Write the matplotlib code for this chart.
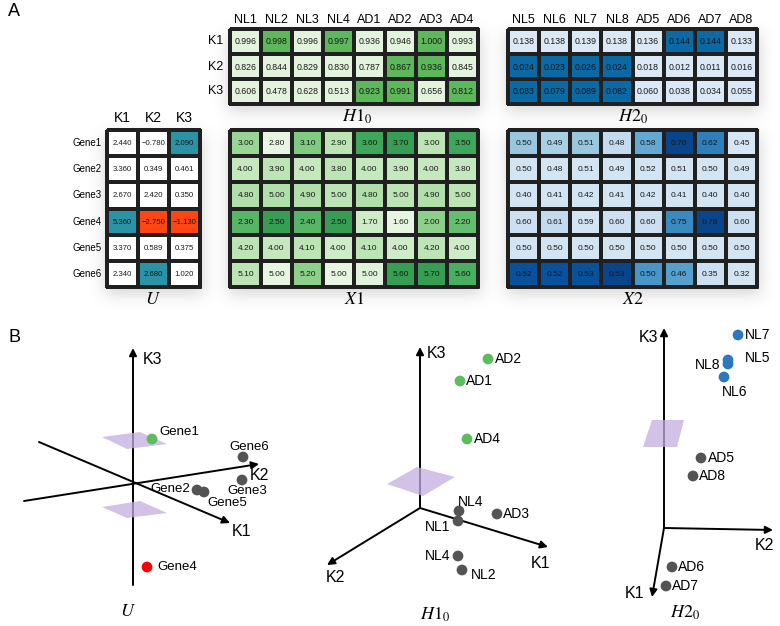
import numpy as np
import matplotlib
matplotlib.use('Agg')
import matplotlib.pyplot as plt
from matplotlib.colors import ListedColormap
from matplotlib.patches import Polygon, Rectangle

plt.rcParams['font.family'] = ['Liberation Sans', 'DejaVu Sans']
plt.rcParams['mathtext.fontset'] = 'stix'

W, H = 780, 626

# ---- data: table A ----
h1_cols = ['NL1', 'NL2', 'NL3', 'NL4', 'AD1', 'AD2', 'AD3', 'AD4']
h2_cols = ['NL5', 'NL6', 'NL7', 'NL8', 'AD5', 'AD6', 'AD7', 'AD8']
k_rows = ['K1', 'K2', 'K3']
genes = ['Gene1', 'Gene2', 'Gene3', 'Gene4', 'Gene5', 'Gene6']

h1_vals = [[0.996, 0.998, 0.996, 0.997, 0.936, 0.946, 1.000, 0.993],
           [0.826, 0.844, 0.829, 0.830, 0.787, 0.867, 0.936, 0.845],
           [0.606, 0.478, 0.628, 0.513, 0.923, 0.991, 0.656, 0.812]]
h1_mark = [[0, 1, 0, 1, 0, 0, 1, 0],
           [0, 0, 0, 0, 0, 1, 1, 0],
           [0, 0, 0, 0, 1, 1, 0, 1]]

h2_vals = [[0.138, 0.138, 0.139, 0.138, 0.136, 0.144, 0.144, 0.133],
           [0.024, 0.023, 0.026, 0.024, 0.018, 0.012, 0.011, 0.016],
           [0.083, 0.079, 0.089, 0.082, 0.060, 0.038, 0.034, 0.055]]
h2_mark = [[0, 0, 0, 0, 0, 1, 1, 0],
           [1, 1, 1, 1, 0, 0, 0, 0],
           [1, 1, 1, 1, 0, 0, 0, 0]]

u_vals = [[2.440, -0.780, 2.090],
          [3.360, 0.349, 0.461],
          [2.670, 2.420, 0.350],
          [5.360, -2.750, -1.130],
          [3.370, 0.589, 0.375],
          [2.340, 2.680, 1.020]]
u_mark = [[0, 0, 1],
          [0, 0, 0],
          [0, 0, 0],
          [1, 2, 2],
          [0, 0, 0],
          [0, 1, 0]]

x1_vals = [[3.00, 2.80, 3.10, 2.90, 3.60, 3.70, 3.00, 3.50],
           [4.00, 3.90, 4.00, 3.80, 4.00, 3.90, 4.00, 3.80],
           [4.80, 5.00, 4.90, 5.00, 4.80, 5.00, 4.90, 5.00],
           [2.30, 2.50, 2.40, 2.50, 1.70, 1.60, 2.00, 2.20],
           [4.20, 4.00, 4.10, 4.00, 4.10, 4.00, 4.20, 4.00],
           [5.10, 5.00, 5.20, 5.00, 5.00, 5.60, 5.70, 5.60]]
# colour level of each cell
x1_shade = [[0.45, 0.05, 0.55, 0.30, 0.80, 0.85, 0.30, 0.80],
            [0.25, 0.30, 0.25, 0.30, 0.25, 0.25, 0.25, 0.25],
            [0.35, 0.35, 0.35, 0.30, 0.35, 0.30, 0.35, 0.30],
            [0.70, 0.85, 0.70, 0.85, 0.20, 0.05, 0.50, 0.65],
            [0.30, 0.25, 0.30, 0.20, 0.30, 0.20, 0.30, 0.20],
            [0.30, 0.05, 0.50, 0.05, 0.10, 0.85, 0.85, 0.75]]

x2_vals = [[0.50, 0.49, 0.51, 0.48, 0.58, 0.70, 0.62, 0.45],
           [0.50, 0.48, 0.51, 0.49, 0.52, 0.51, 0.50, 0.49],
           [0.40, 0.41, 0.42, 0.41, 0.42, 0.41, 0.40, 0.40],
           [0.60, 0.61, 0.59, 0.60, 0.60, 0.75, 0.78, 0.60],
           [0.50, 0.50, 0.50, 0.50, 0.50, 0.50, 0.50, 0.50],
           [0.52, 0.52, 0.53, 0.53, 0.50, 0.46, 0.35, 0.32]]
x2_shade = [[0.35, 0.30, 0.35, 0.20, 0.50, 0.95, 0.70, 0.10],
            [0.12, 0.12, 0.12, 0.12, 0.12, 0.12, 0.12, 0.12],
            [0.12, 0.12, 0.12, 0.12, 0.12, 0.12, 0.12, 0.12],
            [0.15, 0.20, 0.12, 0.15, 0.15, 0.65, 0.95, 0.15],
            [0.12, 0.12, 0.12, 0.12, 0.12, 0.12, 0.12, 0.12],
            [0.90, 0.90, 0.90, 0.95, 0.60, 0.55, 0.15, 0.12]]

# ---- data: panel B (projected positions of the points in each sketch) ----
u_names = ['Gene1', 'Gene2', 'Gene3', 'Gene4', 'Gene5', 'Gene6']
u_px = [19, 64, 109, 14, 71, 110]
u_py = [44, -7, 3, -84, -9, 26]
u_grp = ['g', 'n', 'n', 'r', 'n', 'n']

h1_names = ['AD1', 'AD2', 'AD3', 'AD4', 'NL4', 'NL1', 'NL4', 'NL2']
h1_px = [40, 68, 77, 47, 39, 38, 38, 42]
h1_py = [127, 149, -6, 69, -3, -13, -48, -62]
h1_grp = ['g', 'g', 'n', 'g', 'n', 'n', 'n', 'n']

h2_names = ['NL7', 'NL5', 'NL8', 'NL6', 'AD5', 'AD8', 'AD6', 'AD7']
h2_px = [74, 64, 64, 60, 37, 29, 8, 2]
h2_py = [193, 168, 164, 151, 70, 52, -39, -58]
h2_grp = ['b', 'b', 'b', 'b', 'n', 'n', 'n', 'n']

# label placement (offset px, alignment)
u_lab = [(7, 7, 'left'), (-7, 1, 'right'), (5, -11, 'center'), (10, 0, 'left'),
         (3, -11, 'left'), (6, 10, 'center')]
h1_lab = [(6, 0, 'left'), (7, 0, 'left'), (6, 0, 'left'), (7, 0, 'left'),
          (-1, 9, 'left'), (-8, -6, 'right'), (-8, 0, 'right'), (9, -5, 'left')]
h2_lab = [(7, 0, 'left'), (17, 2, 'left'), (-8, -1, 'right'), (11, -15, 'center'),
          (7, 0, 'left'), (6, 0, 'left'), (6, 0, 'left'), (6, 0, 'left')]

dot_col = {'g': '#5cbd5c', 'n': '#545454', 'r': '#ff0000', 'b': '#2b78c2'}


def px_rect(x0, y0, x1, y1):
    return [x0 / W, 1 - y1 / H, (x1 - x0) / W, (y1 - y0) / H]


fig = plt.figure(figsize=(W / 100, H / 100), dpi=100)

# soft shadow behind the tables
boxes = [(230, 29, 478, 104), (508, 29, 757, 104), (107, 130, 200, 287),
         (230, 130, 478, 287), (508, 130, 757, 287)]
sh = np.zeros((H, W))
for x0, y0, x1, y1 in boxes:
    sh[y0 + 5:y1 + 7, x0 - 2:x1 + 3] = 1
k = np.ones(15) / 15
for _ in range(3):
    sh = np.apply_along_axis(lambda r: np.convolve(r, k, mode='same'), 1, sh)
    sh = np.apply_along_axis(lambda c: np.convolve(c, k, mode='same'), 0, sh)
rgba = np.zeros((H, W, 4))
rgba[..., :3] = 0.5
rgba[..., 3] = 0.32 * sh
bg = fig.add_axes([0, 0, 1, 1], zorder=-5)
bg.imshow(rgba, extent=(0, W, H, 0), aspect='auto')
bg.set_xlim(0, W)
bg.set_ylim(H, 0)
bg.axis('off')


def draw_table(box, vals, colors, cmap, fmt, fs, cols=None, rows=None,
               col_dy=0.36, row_dx=0.23, head_fs=9, row_fs=None):
    ax = fig.add_axes(px_rect(*box))
    vals = np.array(vals)
    nr, nc = vals.shape
    mesh = ax.pcolormesh(np.array(colors, dtype=float), cmap=cmap, vmin=0, vmax=1,
                         edgecolors='#202020', linewidth=1.5)
    mesh.set_clip_on(False)
    ax.add_patch(Rectangle((0, 0), nc, nr, fill=False, ec='#202020', lw=2, clip_on=False))
    ax.set_xlim(0, nc)
    ax.set_ylim(nr, 0)
    ax.axis('off')
    for i in range(nr):
        for j in range(nc):
            s = fmt % vals[i, j]
            s = s.replace('-', '\u2212')
            ax.text(j + 0.5, i + 0.52, s, ha='center', va='center', fontsize=fs,
                    color='#1a1a1a')
    if cols:
        for j, c in enumerate(cols):
            ax.text(j + 0.5, -col_dy, c, ha='center', va='center', fontsize=head_fs)
    if rows:
        for i, r in enumerate(rows):
            ax.text(-row_dx, i + 0.5, r, ha='right', va='center',
                    fontsize=row_fs or head_fs)
    return ax


cm_h1 = ListedColormap(['#e4f3de', '#5db75b'])
cm_h2 = ListedColormap(['#dbe8f5', '#0b69a6'])
cm_u = ListedColormap(['#ffffff', '#2a93a6', '#ff4514'])
g = plt.get_cmap('Greens')
b = plt.get_cmap('Blues')
cm_x1 = ListedColormap(g(np.linspace(0.08, 0.78, 256)))
cm_x2 = ListedColormap(b(np.linspace(0.08, 0.96, 256)))

draw_table(boxes[0], h1_vals, h1_mark, cm_h1, '%.3f', 6.3, cols=h1_cols, rows=k_rows)
draw_table(boxes[1], h2_vals, h2_mark, cm_h2, '%.3f', 6.3, cols=h2_cols)
draw_table(boxes[2], u_vals, np.array(u_mark) / 2, cm_u, '%.3f', 5.6,
           cols=['K1', 'K2', 'K3'], rows=genes, col_dy=0.46, row_dx=0.16,
           head_fs=10, row_fs=7)
draw_table(boxes[3], x1_vals, x1_shade, cm_x1, '%.2f', 6)
draw_table(boxes[4], x2_vals, x2_shade, cm_x2, '%.2f', 6)

tfs = 13
fig.text(357 / W, 1 - 117 / H, r'$\mathit{H}1_{0}$', ha='center', va='center', fontsize=tfs)
fig.text(633 / W, 1 - 117 / H, r'$\mathit{H}2_{0}$', ha='center', va='center', fontsize=tfs)
fig.text(153 / W, 1 - 299 / H, r'$\mathit{U}$', ha='center', va='center', fontsize=tfs)
fig.text(354 / W, 1 - 299 / H, r'$\mathit{X}1$', ha='center', va='center', fontsize=tfs)
fig.text(633 / W, 1 - 299 / H, r'$\mathit{X}2$', ha='center', va='center', fontsize=tfs)

fig.text(8 / W, 1 - 12 / H, 'A', ha='left', va='center', fontsize=13)
fig.text(8 / W, 1 - 337 / H, 'B', ha='left', va='center', fontsize=13)


def sketch(box, origin, axes_lines, ax_labels, planes, names, px, py, grp, labs,
           lab_fs, title, title_xy):
    ox, oy = origin
    x0, y0, x1, y1 = box
    ax = fig.add_axes(px_rect(*box))
    ax.set_xlim(x0 - ox, x1 - ox)
    ax.set_ylim(oy - y1, oy - y0)
    ax.axis('off')
    for (sx, sy), (ex, ey) in axes_lines:
        ax.annotate('', xy=(ex, ey), xytext=(sx, sy),
                    arrowprops=dict(arrowstyle='-|>', color='black', lw=1.4,
                                    mutation_scale=11, shrinkA=0, shrinkB=0))
    for txt, lx, ly, ha in ax_labels:
        ax.text(lx, ly, txt, ha=ha, va='center', fontsize=11.5)
    for pts in planes:
        ax.add_patch(Polygon(pts, closed=True, fc='#c3aee0', ec='none', alpha=0.75, zorder=3))
    ax.scatter(px, py, s=60, c=[dot_col[k] for k in grp], zorder=4, linewidths=0)
    for n, x, y, (dx, dy, ha) in zip(names, px, py, labs):
        ax.annotate(n, (x, y), xytext=(dx * 0.72, dy * 0.72), textcoords='offset points',
                    ha=ha, va='center', fontsize=lab_fs, zorder=5)
    ax.text(title_xy[0], title_xy[1], title, ha='center', va='center', fontsize=tfs)


sketch((0, 320, 280, 626), (133, 483),
       [((0, -102), (0, 135)), ((-109, -18), (126, 19)), ((-94, 41), (97, -40))],
       [('K3', 10, 124, 'left'), ('K2', 117, 7, 'left'), ('K1', 99, -49, 'left')],
       [[(-31, 46), (7, 51), (34, 39), (-6, 34)], [(-31, -24), (7, -18), (34, -30), (-6, -35)]],
       u_names, u_px, u_py, u_grp, u_lab, 9.5, r'$\mathit{U}$', (-5, -129))

sketch((280, 320, 560, 626), (420, 508),
       [((0, 0), (0, 161)), ((0, 0), (-93, -57)), ((0, 0), (128, -39))],
       [('K3', 7, 154, 'left'), ('K2', -85, -70, 'center'), ('K1', 121, -55, 'center')],
       [[(-33, 24), (-3, 41), (35, 31), (3, 12)]],
       h1_names, h1_px, h1_py, h1_grp, h1_lab, 10, r'$\mathit{H}1_{0}$', (15, -107))

sketch((560, 320, 780, 626), (664, 528),
       [((0, 0), (0, 200)), ((0, 0), (109, -2)), ((0, 0), (-12, -69))],
       [('K3', -6, 191, 'right'), ('K2', 100, -17, 'center'), ('K1', -30, -66, 'center')],
       [[(-21, 81), (-12, 108), (20, 108), (13, 81)]],
       h2_names, h2_px, h2_py, h2_grp, h2_lab, 10, r'$\mathit{H}2_{0}$', (21, -85))

fig.savefig('out.png', dpi=100)
